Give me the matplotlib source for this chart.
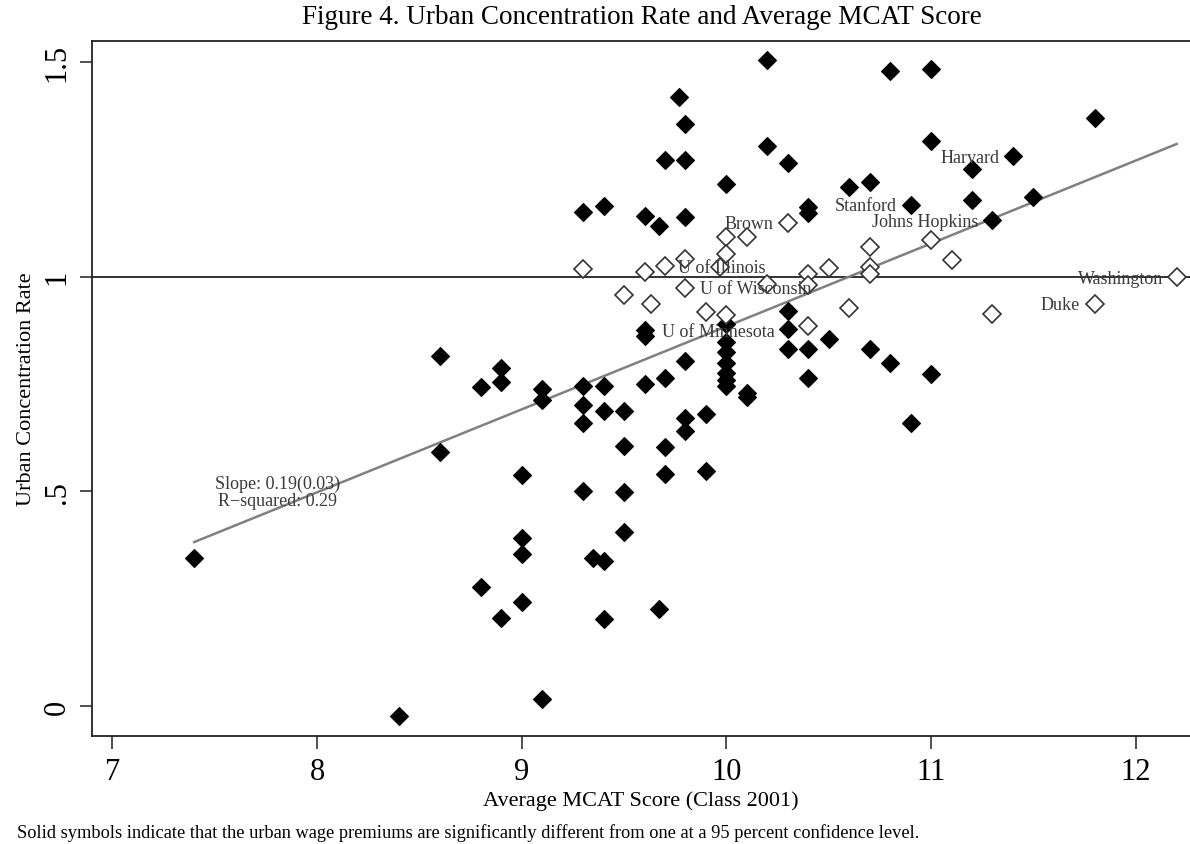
import matplotlib
matplotlib.use("Agg")
import matplotlib.pyplot as plt
import numpy as np

plt.rcParams['font.family'] = ['Liberation Serif', 'DejaVu Serif']

# Solid symbols: significantly different from one
sig_x = [7.4, 8.4, 9.1, 8.6, 8.6, 8.8, 8.9, 8.9, 9.1, 9.1, 9.0, 9.3, 9.0, 9.0,
         9.35, 9.4, 8.8, 9.0, 8.9, 9.4, 9.3, 9.3, 9.3, 9.4, 9.4, 9.5, 9.6, 9.7,
         9.8, 9.8, 9.9, 9.8, 9.5, 9.7, 9.7, 9.9, 9.5, 9.5, 9.67, 9.6, 9.6,
         10.0, 10.0, 10.0, 10.0, 10.0, 10.0, 10.0, 10.1, 10.1, 10.3, 10.3, 10.3,
         10.4, 10.5, 10.4, 10.7, 10.8, 11.0, 10.9,
         10.2, 10.8, 11.0, 9.77, 9.8, 11.8, 11.0, 10.2, 9.7, 9.8, 10.3, 11.4,
         11.2, 10.0, 10.6, 10.7, 11.2, 11.5, 10.9, 10.4, 10.4, 9.3, 9.4, 9.6,
         9.67, 9.8, 11.3]
sig_y = [0.345, -0.022, 0.017, 0.815, 0.592, 0.742, 0.787, 0.754, 0.738, 0.712,
         0.539, 0.500, 0.391, 0.354, 0.345, 0.339, 0.277, 0.242, 0.205, 0.203,
         0.746, 0.700, 0.659, 0.746, 0.688, 0.688, 0.750, 0.763, 0.804, 0.672,
         0.680, 0.641, 0.606, 0.603, 0.541, 0.548, 0.498, 0.406, 0.226, 0.875,
         0.862, 0.890, 0.847, 0.825, 0.800, 0.775, 0.760, 0.745, 0.730, 0.720,
         0.921, 0.877, 0.832, 0.832, 0.854, 0.763, 0.831, 0.798, 0.773, 0.659,
         1.503, 1.479, 1.483, 1.419, 1.355, 1.370, 1.315, 1.305, 1.272, 1.272,
         1.264, 1.280, 1.250, 1.215, 1.208, 1.221, 1.179, 1.186, 1.167, 1.163,
         1.148, 1.150, 1.165, 1.142, 1.118, 1.138, 1.131]

# Hollow symbols: not significantly different from one
ns_x = [9.3, 9.5, 9.6, 9.63, 9.7, 9.8, 9.8, 9.9, 9.97, 10.0, 10.0, 10.0, 10.1,
        10.2, 10.3, 10.4, 10.4, 10.4, 10.5, 10.6, 10.7, 10.7, 10.7, 11.0, 11.1,
        11.3, 11.8, 12.2]
ns_y = [1.018, 0.956, 1.010, 0.937, 1.024, 1.042, 0.974, 0.918, 1.022, 1.092,
        1.053, 0.910, 1.091, 0.983, 1.125, 1.005, 0.980, 0.886, 1.019, 0.928,
        1.068, 1.023, 1.007, 1.084, 1.039, 0.912, 0.935, 0.998]

# Labelled schools
lab_text = ["Harvard", "Stanford", "Johns Hopkins", "Brown", "U of Illinois",
            "U of Wisconsin", "U of Minnesota", "Washington", "Duke"]
lab_x = [11.332, 10.833, 11.231, 10.229, 9.765, 9.871, 9.684, 12.134, 11.727]
lab_y = [1.277, 1.165, 1.128, 1.124, 1.020, 0.973, 0.872, 0.996, 0.935]
lab_ha = ["right", "right", "right", "right", "left", "left", "left", "right", "right"]

# Fitted line
fit_slope = 0.193
fit_intercept = -1.046
fit_range = [7.4, 12.2]

xticks = [7, 8, 9, 10, 11, 12]
yticks = [0, 0.5, 1, 1.5]
ytick_labels = ["0", ".5", "1", "1.5"]

fig = plt.figure(figsize=(11.9, 8.45), dpi=100)
ax = fig.add_axes([0.0776, 0.1275, 0.9224, 0.8232])
ax.set_xlim(6.902, 12.265)
ax.set_ylim(-0.0698, 1.549)

ax.axhline(1.0, color='#222222', lw=1.3, zorder=1)

fx = np.array(fit_range)
ax.plot(fx, fit_intercept + fit_slope * fx, color='#808080', lw=1.8, zorder=2)

ax.plot(sig_x, sig_y, linestyle='none', marker='D', ms=9.5,
        mfc='black', mec='black', mew=0.8, zorder=3)
ax.plot(ns_x, ns_y, linestyle='none', marker='D', ms=9.0,
        mfc='white', mec='#333333', mew=1.2, zorder=3)

for t, x, y, ha in zip(lab_text, lab_x, lab_y, lab_ha):
    ax.text(x, y, t, ha=ha, va='center', fontsize=13, color='#3a3a3a', zorder=4)

ax.text(7.805, 0.499, "Slope: 0.19(0.03)\nR\u2212squared: 0.29", ha='center',
        va='center', fontsize=13, color='#3a3a3a', linespacing=0.95, zorder=4)

ax.set_xticks(xticks)
ax.set_xticklabels([str(v) for v in xticks], fontsize=22)
ax.set_yticks(yticks)
ax.set_yticklabels(ytick_labels, fontsize=22, rotation=90, va='center')
ax.tick_params(axis='both', direction='out', length=9, width=1.1, color='#222222', pad=6)

for s in ['left', 'bottom', 'top']:
    ax.spines[s].set_linewidth(1.3)
    ax.spines[s].set_color('#222222')
ax.spines['right'].set_visible(False)

ax.set_xlabel("Average MCAT Score (Class 2001)", fontsize=16, labelpad=3)
ax.set_ylabel("Urban Concentration Rate", fontsize=16, labelpad=5)

fig.text(0.539, 0.979, "Figure 4. Urban Concentration Rate and Average MCAT Score",
         ha='center', va='center', fontsize=19.5)
fig.text(0.0143, 0.0142, "Solid symbols indicate that the urban wage premiums are "
         "significantly different from one at a 95 percent confidence level.",
         ha='left', va='center', fontsize=13.2)

fig.savefig("out.png", dpi=100)
